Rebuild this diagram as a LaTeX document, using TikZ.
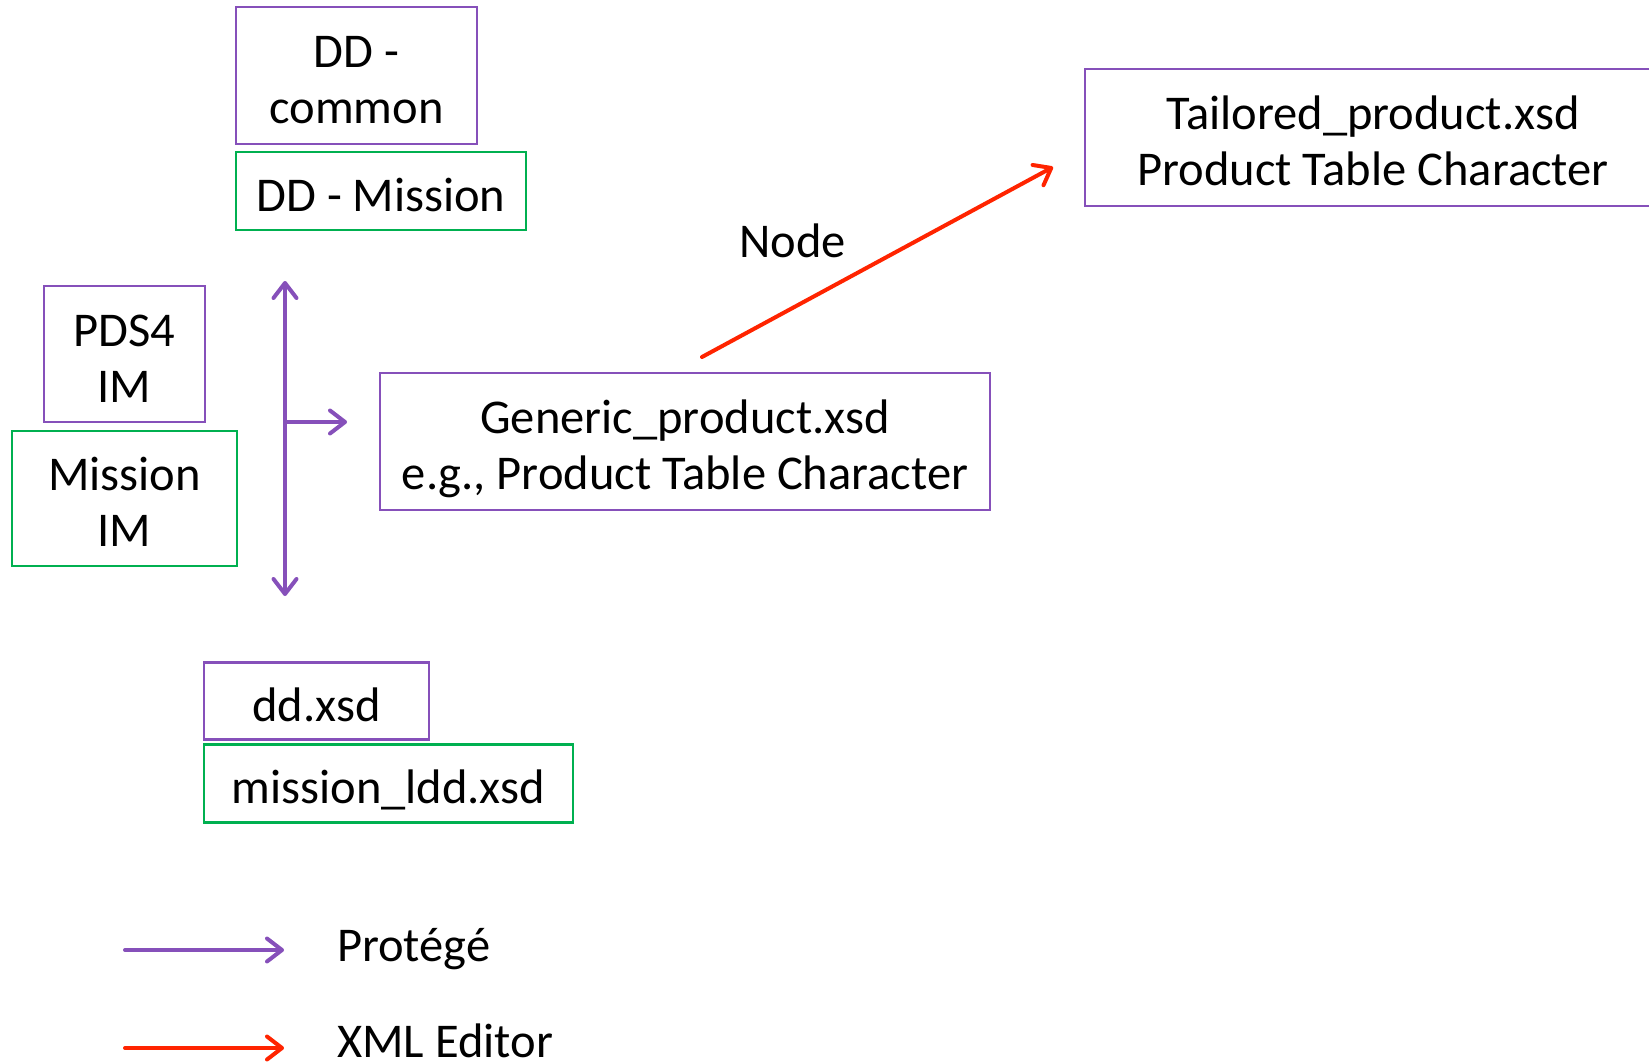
\documentclass[tikz,border=0pt]{standalone}
\usepackage{fontspec}
\setmainfont{Carlito}
\usetikzlibrary{arrows.meta}
\definecolor{vio}{RGB}{134,80,186}
\definecolor{grn}{RGB}{0,176,80}
\definecolor{rd}{RGB}{255,36,0}
\newcommand\bxt[1]{\raisebox{-9pt}[\height][\depth]{\begin{tabular}{@{}c@{}}#1\end{tabular}}}
\tikzset{
  box/.style={draw, line width=2.5pt, inner sep=0pt,
    font=\fontsize{48.5}{56}\selectfont},
  pbox/.style={box, draw=vio},
  gbox/.style={box, draw=grn},
  lbl/.style={inner sep=0pt, font=\fontsize{48.5}{56}\selectfont},
  parr/.style={draw=vio, line width=4pt, line cap=round,
    arrows={-Straight Barb[length=15pt,width=23pt,round]}},
  rarr/.style={draw=rd, line width=4pt, line cap=round,
    arrows={-Straight Barb[length=15pt,width=23pt,round]}},
}
\begin{document}
\begin{tikzpicture}[x=1pt,y=-1pt]
\useasboundingbox (0,0) rectangle (1649,1062);
\clip (0,0) rectangle (1649,1062);
\node[pbox, minimum width=241pt, minimum height=137pt] (ddc) at (356.5,75.5) {\bxt{DD -\\common}};
\node[gbox, minimum width=290pt, minimum height=78pt] (ddm) at (381,191) {\bxt{DD - Mission}};
\node[pbox, minimum width=161pt, minimum height=136pt] (pds) at (124.5,354) {\bxt{PDS4\\IM}};
\node[gbox, minimum width=225pt, minimum height=135pt] (mim) at (124.5,498.5) {\bxt{Mission\\IM}};
\node[pbox, minimum width=610pt, minimum height=137pt] (gen) at (685,441.5) {\bxt{Generic\_product.xsd\\e.g., Product Table Character}};
\node[pbox, minimum width=576pt, minimum height=137pt] (tai) at (1373,137.5) {\bxt{Tailored\_product.xsd\\Product Table Character}};
\node[pbox, minimum width=225pt, minimum height=77pt] (ddx) at (316.5,701) {\bxt{dd.xsd}};
\node[gbox, minimum width=369pt, minimum height=78pt] (mld) at (388.5,783.5) {\bxt{mission\_ldd.xsd}};

\coordinate (vtop) at (285,281);
\coordinate (vbot) at (285,596);
\coordinate (vmid) at (285,422);
\coordinate (hend) at (347,422);
\draw[parr, arrows={Straight Barb[length=15pt,width=23pt,round]-Straight Barb[length=15pt,width=23pt,round]}] (vtop) -- (vbot);
\draw[parr] (vmid) -- (hend);

\coordinate (rs) at (702,357);
\coordinate (re) at (1053,167);
\draw[rarr] (rs) -- (re);
\node[lbl, anchor=base west] (nodelbl) at (739,257) {Node};

\coordinate (l1s) at (125,950);
\coordinate (l1e) at (284,950);
\coordinate (l2s) at (125,1048);
\coordinate (l2e) at (284,1048);
\draw[parr] (l1s) -- (l1e);
\draw[rarr] (l2s) -- (l2e);
\node[lbl, anchor=base west] (prot) at (337,961) {Protégé};
\node[lbl, anchor=base west] (xml) at (337,1057.5) {XML Editor};
\end{tikzpicture}
\end{document}
